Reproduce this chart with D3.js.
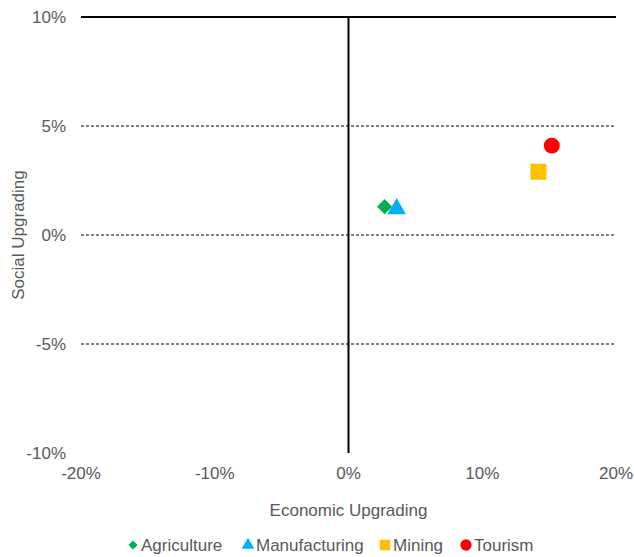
<!DOCTYPE html>
<html>
<head>
<meta charset="utf-8">
<script src="https://cdn.jsdelivr.net/npm/d3@7"></script>
<style>
  body { margin: 0; background: #fff; }
  text { font-family: "Liberation Sans", Arial, sans-serif; fill: #595959; font-size: 17px; }
</style>
</head>
<body>
<div id="chart"></div>
<script>
// sectors and their (economic, social) upgrading
const sectors = ["Agriculture", "Manufacturing", "Mining", "Tourism"];
const economic = [0.027, 0.036, 0.142, 0.152];
const social = [0.013, 0.012, 0.029, 0.041];
const sectorColors = ["#00B050", "#00B0F0", "#FFC000", "#FF0000"];
const xTicks = [-0.2, -0.1, 0, 0.1, 0.2];
const yTicks = [-0.1, -0.05, 0, 0.05, 0.1];

const W = 634, H = 557;
const margin = {top: 17, right: 18, bottom: 104, left: 81};
const width = W - margin.left - margin.right;
const height = H - margin.top - margin.bottom;

const svg = d3.select("#chart").append("svg")
    .attr("width", W).attr("height", H);
const g = svg.append("g")
    .attr("transform", "translate(" + margin.left + "," + margin.top + ")");

const x = d3.scaleLinear().domain([-0.2, 0.2]).range([0, width]);
const y = d3.scaleLinear().domain([-0.1, 0.1]).range([height, 0]);
// excel style hyphen instead of unicode minus
const pct = d => d3.format(".0%")(d).replace("\u2212", "-");

// dashed gridlines (not the top/bottom)
g.selectAll(".grid")
    .data(yTicks.filter(d => d > -0.1 && d < 0.1))
    .enter().append("line")
    .attr("x1", 0).attr("x2", width)
    .attr("y1", d => y(d)).attr("y2", d => y(d))
    .attr("stroke", "#000").attr("stroke-width", 1)
    .style("stroke-dasharray", "3,2");

// top line
g.append("line")
    .attr("x1", 0).attr("x2", width)
    .attr("y1", y(0.1)).attr("y2", y(0.1))
    .attr("stroke", "#000").attr("stroke-width", 2);

// vertical axis at 0%
g.append("line")
    .attr("x1", x(0)).attr("x2", x(0))
    .attr("y1", y(0.1)).attr("y2", y(-0.1))
    .attr("stroke", "#000").attr("stroke-width", 2);

// y tick labels
g.selectAll(".ylab")
    .data(yTicks)
    .enter().append("text")
    .attr("x", -15)
    .attr("y", d => y(d))
    .attr("dy", "0.35em")
    .attr("text-anchor", "end")
    .text(d => pct(d));

// x tick labels
g.selectAll(".xlab")
    .data(xTicks)
    .enter().append("text")
    .attr("x", d => x(d))
    .attr("y", height + 26)
    .attr("text-anchor", "middle")
    .text(d => pct(d));

// axis titles
svg.append("text")
    .attr("x", margin.left + x(0))
    .attr("y", 516)
    .attr("text-anchor", "middle")
    .text("Economic Upgrading");

svg.append("text")
    .attr("transform", "translate(24," + (margin.top + y(0)) + ") rotate(-90)")
    .attr("text-anchor", "middle")
    .text("Social Upgrading");

// markers: diamond is a rotated square
const shapes = [d3.symbolSquare, d3.symbolTriangle, d3.symbolSquare, d3.symbolCircle];
const rotations = [45, 0, 0, 0];
const sizes = [115, 150, 256, 200];
const legendSizes = [42, 70, 110, 100];

g.selectAll(".pt")
    .data(sectors)
    .enter().append("path")
    .attr("d", (d, i) => d3.symbol().type(shapes[i]).size(sizes[i])())
    .attr("transform", (d, i) => "translate(" + x(economic[i]) + "," + y(social[i]) + ") rotate(" + rotations[i] + ")")
    .attr("fill", (d, i) => sectorColors[i]);

// legend
const legendX = [133, 248, 385, 466];
const legendY = 545;
const lg = svg.append("g");
lg.selectAll("path")
    .data(sectors)
    .enter().append("path")
    .attr("d", (d, i) => d3.symbol().type(shapes[i]).size(legendSizes[i])())
    .attr("transform", (d, i) => "translate(" + legendX[i] + "," + legendY + ") rotate(" + rotations[i] + ")")
    .attr("fill", (d, i) => sectorColors[i]);
lg.selectAll("text")
    .data(sectors)
    .enter().append("text")
    .attr("x", (d, i) => legendX[i] + 8)
    .attr("y", legendY)
    .attr("dy", "0.35em")
    .text(d => d);
</script>
</body>
</html>
